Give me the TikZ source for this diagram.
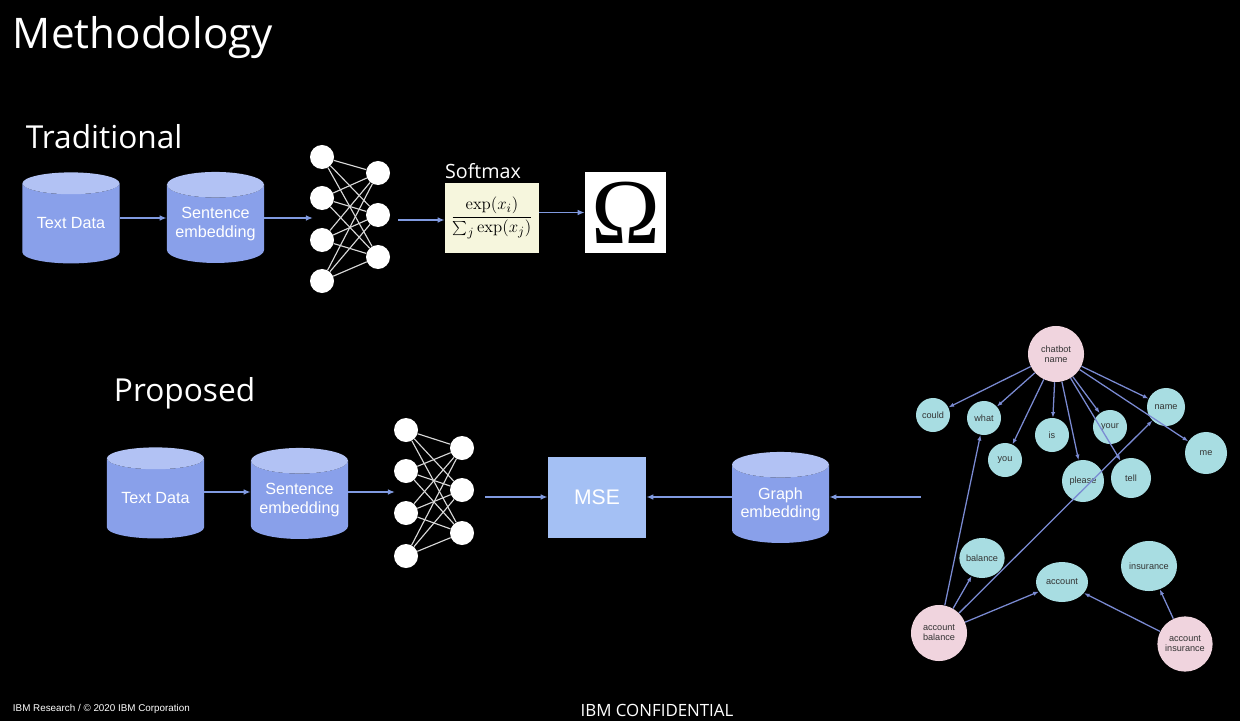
\documentclass[tikz,border=0pt]{standalone}
\usepackage[no-math]{fontspec}
\setmainfont{Liberation Sans}
\newfontfamily\titlefont{Open Sans}
\newfontfamily\omegafont{Liberation Serif}
\usetikzlibrary{arrows.meta, shapes.geometric}
\definecolor{dbbody}{RGB}{137,160,234}
\definecolor{dbtop}{RGB}{178,194,244}
\definecolor{msefill}{RGB}{164,192,244}
\definecolor{wordfill}{RGB}{168,221,226}
\definecolor{topicfill}{RGB}{240,212,222}
\definecolor{softfill}{RGB}{246,246,221}
\definecolor{flowblue}{RGB}{128,154,224}
\definecolor{edgeblue}{RGB}{122,138,210}

\begin{document}
\begin{tikzpicture}[x=0.025cm, y=-0.025cm,
        db/.style={cylinder, shape border rotate=90, aspect=0.32,
                   cylinder uses custom fill, cylinder body fill=dbbody, cylinder end fill=dbtop,
                   minimum width=2.425cm, minimum height=2.275cm, inner sep=0pt,
                   text=white, align=center, font=\fontsize{11.5}{13}\selectfont},
        neuron/.style={circle, fill=white, minimum size=0.6cm, inner sep=0pt},
        flow/.style={-{Latex[length=5pt, width=4pt]}, line width=1pt, flowblue},
        word/.style={circle, fill=wordfill, text=black!80, inner sep=0pt,
                     minimum size=0.85cm, font=\fontsize{6.5}{7}\selectfont},
        topic/.style={word, fill=topicfill, minimum size=1.4cm, align=center},
        link/.style={-{Latex[length=4pt, width=3pt]}, line width=0.9pt, edgeblue},
        heading/.style={anchor=base west, text=white, font=\titlefont\fontsize{22.5}{26}\selectfont}
    ]
        \fill[black] (0,0) rectangle (1240,721);

        \node[anchor=base west, text=white, font=\titlefont\fontsize{30}{35}\selectfont] (title) at (8,49) {Methodology};
        \node[heading] (trad) at (21,149) {Traditional};
        \node[heading] (prop) at (109,401) {Proposed};

        % traditional pipeline
        \node[db] (td1) at (71,223.5) {Text Data};
        \node[db] (se1) at (215.5,224) {Sentence\\embedding};
        \foreach \i/\y in {1/157,2/198,3/240,4/281}
            \node[neuron] (a\i) at (322,\y) {};
        \foreach \j/\y in {1/173,2/215,3/257}
            \node[neuron] (b\j) at (378,\y) {};
        \foreach \i in {1,...,4}
            \foreach \j in {1,...,3}
                \draw[white!85!black, line width=0.8pt] (a\i) -- (b\j);
        \coordinate (nnin1) at (313,218);
        \coordinate (nnout1) at (398,220);
        \node[fill=softfill, minimum width=2.35cm, minimum height=1.75cm, inner sep=0pt,
              font=\fontsize{12.5}{14}\selectfont] (soft) at (492,218)
            {$\displaystyle\frac{\exp(x_i)}{\textstyle\sum_j \exp(x_j)}$};
        \node[text=white, font=\titlefont\fontsize{14}{16}\selectfont] (softlbl) at (483,171) {Softmax};
        \node[fill=white, minimum size=2.025cm, inner sep=0pt] (omega) at (625.5,212.5)
            {\omegafont\fontsize{66}{66}\selectfont Ω};
        \draw[flow] (td1.east |- nnin1) -- (se1.west |- nnin1);
        \draw[flow] (se1.east |- nnin1) -- (nnin1);
        \draw[flow] (nnout1) -- (soft.west |- nnout1);
        \draw[flow] (soft.east |- omega) -- (omega);

        % proposed pipeline
        \node[db] (td2) at (155.5,498.5) {Text Data};
        \node[db] (se2) at (299.5,500) {Sentence\\embedding};
        \foreach \i/\y in {1/430,2/471,3/513,4/556}
            \node[neuron] (c\i) at (406,\y) {};
        \foreach \j/\y in {1/448,2/490,3/533}
            \node[neuron] (d\j) at (462,\y) {};
        \foreach \i in {1,...,4}
            \foreach \j in {1,...,3}
                \draw[white!85!black, line width=0.8pt] (c\i) -- (d\j);
        \coordinate (nnin2) at (395,492);
        \coordinate (nnout2) at (485,497);
        \node[fill=msefill, minimum width=2.45cm, minimum height=2.025cm, inner sep=0pt,
              text=white, font=\fontsize{15}{17}\selectfont] (mse) at (597,497.5) {MSE};
        \node[db] (ge) at (780.5,504) {Graph\\embedding};
        \coordinate (gin) at (921,497);
        \draw[flow] (td2.east |- nnin2) -- (se2.west |- nnin2);
        \draw[flow] (se2.east |- nnin2) -- (nnin2);
        \draw[flow] (nnout2) -- (mse.west |- nnout2);
        \draw[flow] (ge.west |- gin) -- (mse.east |- gin);
        \draw[flow] (gin) -- (ge.east |- gin);

        % knowledge graph
        \node[topic] (chat) at (1056,354) {chatbot\\name};
        \node[word] (could) at (933,415) {could};
        \node[word] (what) at (984,418) {what};
        \node[word] (you) at (1005,460) {you};
        \node[word] (is) at (1052,435) {is};
        \node[word] (your) at (1110,427) {your};
        \node[word, minimum size=0.95cm] (name) at (1166,407) {name};
        \node[word, minimum size=1.05cm] (me) at (1206,453) {me};
        \node[word, minimum size=1.05cm] (please) at (1083,481) {please};
        \node[word, minimum size=1.0cm] (tell) at (1131,478) {tell};
        \node[word, ellipse, minimum width=1.1cm, minimum height=1.0cm] (balance) at (982,558) {balance};
        \node[word, ellipse, minimum width=1.3cm, minimum height=1.0cm] (account) at (1062,582) {account};
        \node[word, ellipse, minimum width=1.4cm, minimum height=1.25cm] (insurance) at (1149,566) {insurance};
        \node[topic] (accbal) at (939,633) {account\\balance};
        \node[topic, minimum size=1.38cm] (accins) at (1185,644) {account\\insurance};
        \foreach \w in {could,what,you,is,please,tell,your,me,name}
            \draw[link] (chat) -- (\w);
        \foreach \w in {what,balance,account,name}
            \draw[link] (accbal) -- (\w);
        \foreach \w in {account,insurance}
            \draw[link] (accins) -- (\w);

        % footer
        \node[anchor=west, text=white, font=\fontsize{7}{8}\selectfont] (corp) at (8,709) {IBM Research / © 2020 IBM Corporation};
        \node[text=white, font=\titlefont\fontsize{12}{14}\selectfont] (conf) at (657,710) {IBM CONFIDENTIAL};
    \end{tikzpicture}
\end{document}
